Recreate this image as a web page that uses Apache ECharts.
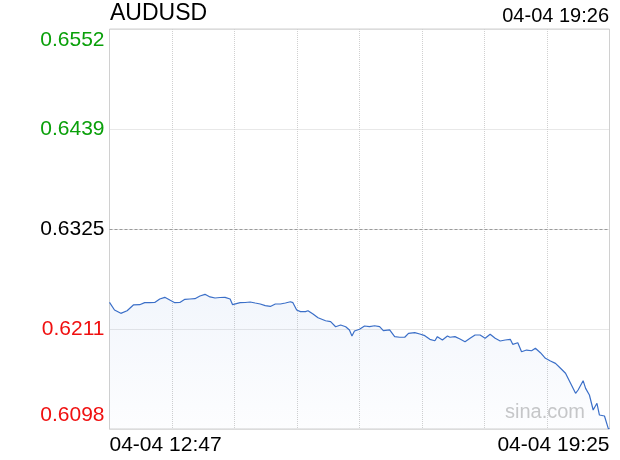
<!DOCTYPE html>
<html>
<head>
<meta charset="utf-8">
<script src="https://cdn.jsdelivr.net/npm/echarts@6/dist/echarts.min.js"></script>
<style>html,body{margin:0;padding:0;background:#fff}#c{width:620px;height:460px}</style>
</head>
<body>
<div id="c"></div>
<script>
// ---- data ----
const symbol = 'AUDUSD';
const updateTime = '04-04 19:26';
const xTickLabels = ['04-04 12:47', '04-04 19:25'];
const sessionMinutes = 398; // 12:47 -> 19:25
const prevClose = 0.6325;
const halfRange = 0.02272;
const yTickLabels = ['0.6098', '0.6211', '0.6325', '0.6439', '0.6552'];
// minutes since 12:47
const minutes = [0,4,9,14,19,24,28,32,36,40,44,48,52,56,60,64,68,72,76,80,84,88,92,96,98,104,108,112,116,120,124,128,132,136,140,144,146,149,152,156,158,162,166,172,176,180,184,188,191,193,195,199,203,207,211,215,218,223,227,231,235,238,243,247,251,255,259,261,265,269,271,275,279,283,287,291,295,299,303,307,311,315,319,321,325,328,332,336,339,343,347,351,355,359,363,367,371,373,377,379,382,385,388,390,394,397,398];
const prices = [0.62417,0.62330,0.62292,0.62322,0.62387,0.62390,0.62413,0.62413,0.62415,0.62455,0.62474,0.62443,0.62413,0.62415,0.62451,0.62455,0.62458,0.62489,0.62508,0.62478,0.62466,0.62472,0.62474,0.62455,0.62390,0.62413,0.62415,0.62421,0.62409,0.62398,0.62379,0.62370,0.62398,0.62398,0.62409,0.62424,0.62413,0.62330,0.62311,0.62311,0.62322,0.62284,0.62242,0.62208,0.62197,0.62140,0.62159,0.62140,0.62103,0.62034,0.62091,0.62111,0.62148,0.62140,0.62151,0.62140,0.62095,0.62103,0.62027,0.62020,0.62020,0.62065,0.62072,0.62057,0.62038,0.61997,0.61981,0.62027,0.61989,0.62034,0.62020,0.62027,0.62000,0.61970,0.62008,0.62046,0.62046,0.62008,0.62054,0.62008,0.61978,0.61989,0.61997,0.61940,0.61958,0.61856,0.61875,0.61867,0.61895,0.61845,0.61781,0.61750,0.61724,0.61668,0.61611,0.61497,0.61384,0.61421,0.61527,0.61440,0.61364,0.61194,0.61270,0.61137,0.61126,0.60985,0.60978];

const FONT = '"Liberation Sans", Arial, Helvetica, sans-serif';
const yInterval = halfRange / 2;
const seriesData = minutes.map((m, i) => [m, prices[i] - prevClose]);
const labelStyles = ['lo', 'dn', 'mid', 'up', 'hi'];

const chart = echarts.init(document.getElementById('c'), null, {renderer: 'canvas'});
chart.setOption({
  animation: false,
  backgroundColor: '#fff',
  title: [
    {text: symbol, left: 110, top: 2, padding: 0,
     textStyle: {fontSize: 23, fontWeight: 'normal', color: '#000', fontFamily: FONT}},
    {text: updateTime, right: 11, top: 6, padding: 0,
     textStyle: {fontSize: 20, fontWeight: 'normal', color: '#000', fontFamily: FONT}}
  ],
  grid: {left: 109.5, right: 10.5, top: 29, bottom: 31, show: true, borderColor: '#d0d0d0', borderWidth: 1},
  graphic: [{
    type: 'text', right: 35, top: 402, z: 1,
    style: {text: 'sina.com', fontSize: 20, fontFamily: FONT, fill: '#c8c8c8'}
  }],
  xAxis: {
    type: 'value', min: 0, max: sessionMinutes, interval: sessionMinutes / 8,
    axisLine: {show: false}, axisTick: {show: false},
    splitLine: {show: true, lineStyle: {color: '#d0d0d0', type: 'dotted', width: 1}},
    axisLabel: {
      show: true, margin: 6, fontSize: 21, color: '#000', fontFamily: FONT,
      showMinLabel: true, showMaxLabel: true,
      alignMinLabel: 'left', alignMaxLabel: 'right',
      formatter: function (v) {
        if (Math.abs(v) < 1e-6) return xTickLabels[0];
        if (Math.abs(v - sessionMinutes) < 1e-6) return xTickLabels[1];
        return '';
      }
    }
  },
  yAxis: {
    type: 'value', min: -halfRange, max: halfRange, interval: yInterval,
    axisLine: {show: false}, axisTick: {show: false},
    splitLine: {show: true, lineStyle: {color: '#d0d0d0', type: 'dotted', width: 1}},
    axisLabel: {
      margin: 5, fontSize: 21, fontFamily: FONT,
      formatter: function (v) {
        const idx = Math.round(v / yInterval) + 2;
        return '{' + labelStyles[idx] + '|' + yTickLabels[idx] + '}';
      },
      rich: {
        hi: {color: '#0aa00a', fontSize: 21, fontFamily: FONT, padding: [22, 0, 0, 0]},
        up: {color: '#0aa00a', fontSize: 21, fontFamily: FONT},
        mid: {color: '#000', fontSize: 21, fontFamily: FONT},
        dn: {color: '#f01010', fontSize: 21, fontFamily: FONT},
        lo: {color: '#f01010', fontSize: 21, fontFamily: FONT, padding: [0, 0, 28, 0]}
      }
    }
  },
  series: [{
    type: 'line', data: seriesData, symbol: 'none', z: 3,
    lineStyle: {color: '#3b6fc8', width: 1.2},
    areaStyle: {
      origin: 'start',
      color: new echarts.graphic.LinearGradient(0, 0, 0, 1, [
        {offset: 0, color: 'rgba(80,130,215,0.10)'},
        {offset: 1, color: 'rgba(80,130,215,0.02)'}
      ])
    },
    markLine: {
      silent: true, symbol: 'none', label: {show: false},
      lineStyle: {color: '#9a9a9a', type: [3, 2], width: 1},
      data: [{yAxis: 0}]
    }
  }]
});
</script>
</body>
</html>
